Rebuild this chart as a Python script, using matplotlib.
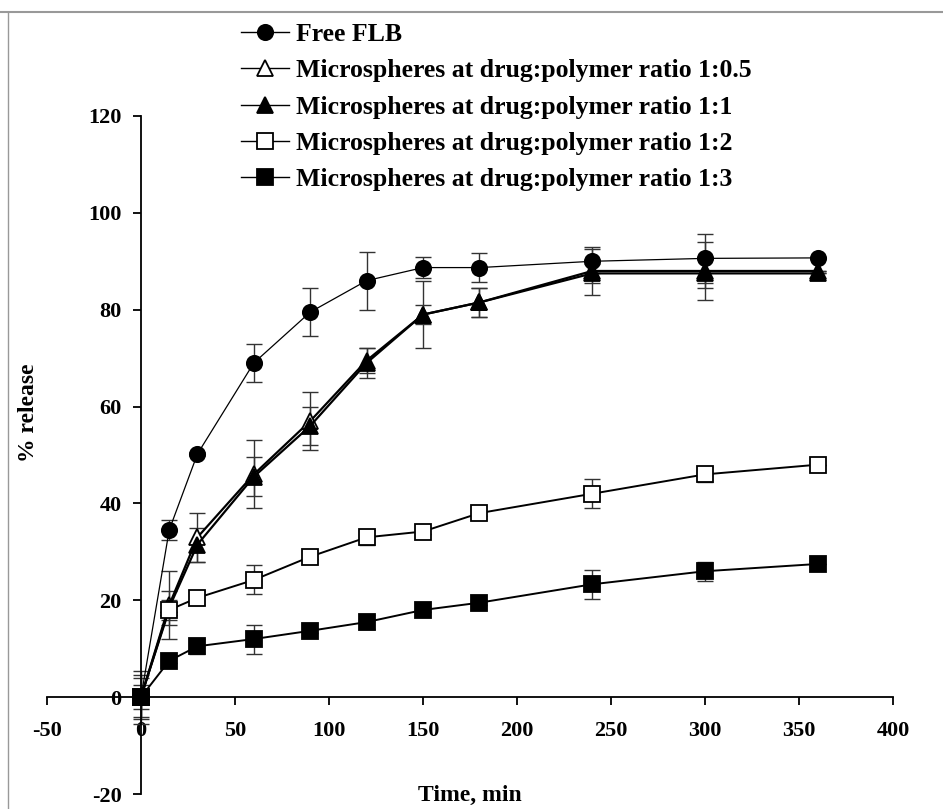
import matplotlib
matplotlib.use("Agg")
import matplotlib.pyplot as plt
from matplotlib.lines import Line2D

plt.rcParams['font.family'] = ['Liberation Serif', 'DejaVu Serif']
plt.rcParams['font.weight'] = 'bold'
plt.rcParams['axes.unicode_minus'] = False

# sampling times, min
time = [0, 15, 30, 60, 90, 120, 150, 180, 240, 300, 360]

free_flb = [0, 34.5, 50.2, 69.0, 79.5, 86.0, 88.7, 88.7, 90.0, 90.6, 90.7]
free_flb_err = [0, 2.0, 0.5, 4.0, 5.0, 6.0, 2.2, 3.0, 2.5, 5.0, 0]

ratio_05 = [0, 19.0, 33.0, 46.0, 57.0, 69.5, 79.0, 81.5, 88.0, 88.0, 88.0]
ratio_05_err = [4.5, 7.0, 5.0, 7.0, 6.0, 2.5, 7.0, 3.0, 5.0, 6.0, 0]

ratio_1 = [0, 18.5, 31.5, 45.5, 56.0, 69.0, 79.0, 81.5, 87.5, 87.5, 87.5]
ratio_1_err = [2.5, 3.5, 3.5, 4.0, 4.0, 3.0, 2.0, 3.0, 2.0, 3.0, 0]

ratio_2 = [0, 18.0, 20.5, 24.2, 29.0, 33.0, 34.2, 38.0, 42.0, 46.0, 48.0]
ratio_2_err = [5.5, 2.0, 1.5, 3.0, 0.5, 1.5, 0.5, 0.5, 3.0, 1.5, 0]

ratio_3 = [0, 7.5, 10.5, 12.0, 13.7, 15.5, 18.0, 19.5, 23.3, 26.0, 27.5]
ratio_3_err = [4.0, 0.5, 1.5, 3.0, 0.5, 1.5, 0.5, 0.5, 3.0, 2.0, 0]

labels = ['Free FLB',
          'Microspheres at drug:polymer ratio 1:0.5',
          'Microspheres at drug:polymer ratio 1:1',
          'Microspheres at drug:polymer ratio 1:2',
          'Microspheres at drug:polymer ratio 1:3']

series = [
    (free_flb, free_flb_err, 'o', 'black', 0.9),
    (ratio_05, ratio_05_err, '^', 'white', 1.6),
    (ratio_1, ratio_1_err, '^', 'black', 1.6),
    (ratio_2, ratio_2_err, 's', 'white', 1.4),
    (ratio_3, ratio_3_err, 's', 'black', 1.4),
]

fig = plt.figure(figsize=(9.43, 8.09), dpi=100)
ax = fig.add_axes([47 / 943, 1 - 794 / 809, 846 / 943, 678 / 809])

handles = []
for (vals, err, mk, fc, lw), lab in zip(series, labels):
    ax.errorbar(time, vals, yerr=err, fmt='none', ecolor='#333333',
                elinewidth=1.0, capsize=6, capthick=1.0, zorder=2)
    ax.plot(time, vals, color='black', lw=lw, marker=mk, markersize=11,
            markerfacecolor=fc, markeredgecolor='black', markeredgewidth=1.3,
            zorder=3, clip_on=False)
    handles.append(Line2D([], [], color='black', lw=1.0, marker=mk, markersize=11,
                          markerfacecolor=fc, markeredgecolor='black',
                          markeredgewidth=1.3))

ax.set_xlim(-50, 400)
ax.set_ylim(-20, 120)
ax.set_xticks(range(-50, 401, 50))
ax.set_yticks(range(-20, 121, 20))

ax.spines['left'].set_position(('data', 0))
ax.spines['bottom'].set_position(('data', 0))
ax.spines['top'].set_visible(False)
ax.spines['right'].set_visible(False)
for s in ('left', 'bottom'):
    ax.spines[s].set_linewidth(1.3)

ax.tick_params(axis='both', direction='out', length=6, width=1.3,
               labelsize=16)
ax.tick_params(axis='x', pad=11)
ax.tick_params(axis='y', pad=8)
for t in ax.get_xticklabels() + ax.get_yticklabels():
    t.set_fontweight('bold')

fig.text(470 / 943, 1 - 795 / 809, 'Time, min', ha='center', va='center',
         fontsize=17, fontweight='bold')
fig.text(28 / 943, 1 - 413 / 809, '% release', ha='center', va='center',
         rotation=90, fontsize=17, fontweight='bold')

fig.legend(handles, labels, loc='upper left', bbox_to_anchor=(241 / 943, 1 - 23 / 809),
           frameon=False, handlelength=1.87, handletextpad=0.27,
           labelspacing=0.52, borderaxespad=0, borderpad=0,
           prop={'weight': 'bold', 'size': 18.5})

# gray frame lines at the top and left edges
fig.add_artist(Line2D([0, 1], [1 - 12 / 809] * 2, transform=fig.transFigure,
                      color='#999999', lw=1.5))
fig.add_artist(Line2D([8 / 943] * 2, [0, 1 - 12 / 809], transform=fig.transFigure,
                      color='#999999', lw=1.0))

fig.savefig('out.png', dpi=100)
